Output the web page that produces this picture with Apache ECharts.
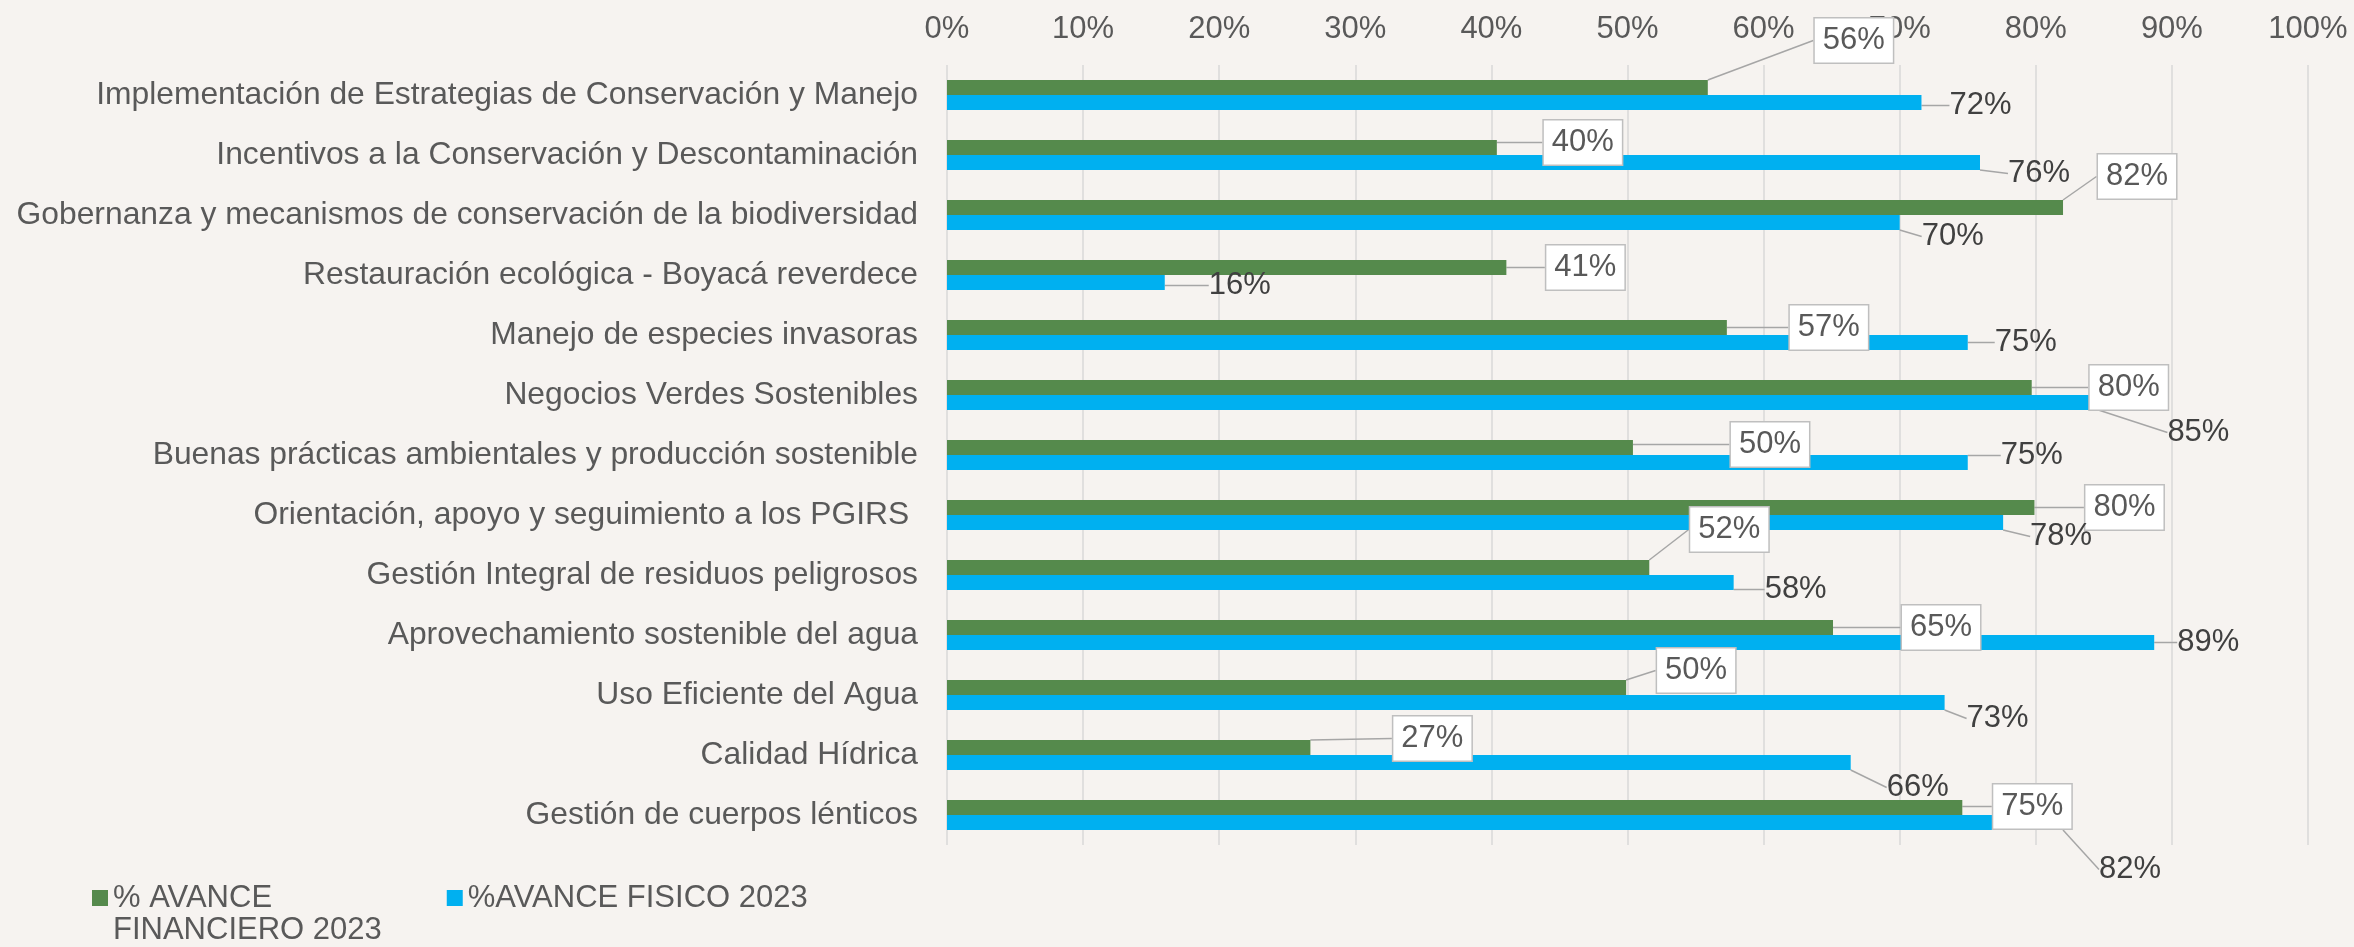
<!DOCTYPE html>
<html lang="es">
<head>
<meta charset="utf-8">
<title>Avance financiero y físico 2023</title>
<script src="https://cdn.jsdelivr.net/npm/echarts@6/dist/echarts.min.js"></script>
<style>
  html, body { margin: 0; padding: 0; background: #f6f3f0; }
  #chart { width: 2354px; height: 947px; }
</style>
</head>
<body>
<div id="chart"></div>
<script>
const categorias = [
  'Implementación de Estrategias de Conservación y Manejo',
  'Incentivos a la Conservación y Descontaminación',
  'Gobernanza y mecanismos de conservación de la biodiversidad',
  'Restauración ecológica - Boyacá reverdece',
  'Manejo de especies invasoras',
  'Negocios Verdes Sostenibles',
  'Buenas prácticas ambientales y producción sostenible',
  'Orientación, apoyo y seguimiento a los PGIRS ',
  'Gestión Integral de residuos peligrosos',
  'Aprovechamiento sostenible del agua',
  'Uso Eficiente del Agua',
  'Calidad Hídrica',
  'Gestión de cuerpos lénticos'
]

// porcentajes
const avanceFinanciero = [55.9, 40.4, 82.0, 41.1, 57.3, 79.7, 50.4, 79.9, 51.6, 65.1, 49.9, 26.7, 74.6]
const avanceFisico = [71.6, 75.9, 70.0, 16.0, 75.0, 84.6, 75.0, 77.6, 57.8, 88.7, 73.3, 66.4, 82.0]

const ticksPct = [0, 10, 20, 30, 40, 50, 60, 70, 80, 90, 100]

const nombreFinanciero = '% AVANCE FINANCIERO 2023'
const nombreFisico = '%AVANCE FISICO 2023'

// desplazamiento de cada etiqueta respecto al extremo de su barra (px)
const desplFinanciero = [[146, -47], [86, -5], [74, -31], [79, 0], [102, 0], [97, 0], [137, -3],
  [90, 0], [80, -38], [108, 0], [70, -17], [122, -9], [70, -1]]
const desplFisico = [[59, 3], [59, 11], [53, 14], [75, 3], [58, 0], [100, 30], [64, -7],
  [58, 14], [62, 7], [54, 0], [53, 16], [67, 25], [67, 47]]

const FONT = '"Liberation Sans", Arial, sans-serif'

const colocarEtiqueta = (despl) => (params) => {
  const d = despl[params.dataIndex]
  const r = params.rect
  return {
    x: r.x + r.width + d[0],
    y: r.y + r.height / 2 + d[1],
    align: 'center',
    verticalAlign: 'middle'
  }
}

const chart = echarts.init(document.getElementById('chart'))

const option = {
  backgroundColor: 'transparent',
  animation: false,
  textStyle: { fontFamily: FONT },
  grid: { left: 947, right: 46, top: 65, bottom: 102, containLabel: false },
  legend: {
    left: 87,
    top: 845,
    icon: 'rect',
    itemWidth: 16,
    itemHeight: 16,
    itemGap: 65,
    data: [nombreFinanciero, nombreFisico],
    // linea vacia arriba para que el cuadro quede junto a la primera linea
    formatter: (name) => name === nombreFinanciero ? '\n% AVANCE\nFINANCIERO 2023' : name,
    textStyle: { fontFamily: FONT, fontSize: 31, lineHeight: 32, color: '#595959' }
  },
  xAxis: {
    type: 'value',
    position: 'top',
    min: ticksPct[0],
    max: ticksPct[ticksPct.length - 1],
    interval: ticksPct[1] - ticksPct[0],
    axisLine: { show: false },
    axisTick: { show: false },
    axisLabel: { fontFamily: FONT, fontSize: 31, color: '#595959', margin: 20, formatter: '{value}%' },
    splitLine: { show: true, lineStyle: { color: '#d9d9d9', width: 1.5 } }
  },
  yAxis: {
    type: 'category',
    inverse: true,
    data: categorias,
    axisLine: { show: false },
    axisTick: { show: false },
    axisLabel: { fontFamily: FONT, fontSize: 31.8, color: '#595959', margin: 29, interval: 0 }
  },
  series: [
    {
      name: nombreFinanciero,
      type: 'bar',
      data: avanceFinanciero,
      barWidth: 15,
      barGap: '0%',
      itemStyle: { color: '#558a4c' },
      label: {
        show: true,
        position: 'right',
        formatter: (p) => Math.round(p.value) + '%',
        fontFamily: FONT,
        fontSize: 31,
        lineHeight: 32,
        color: '#595959',
        backgroundColor: '#ffffff',
        borderColor: '#bfbfbf',
        borderWidth: 1.5,
        padding: [6, 8]
      },
      labelLine: { show: true, lineStyle: { color: '#a6a6a6', width: 1.5 } },
      labelLayout: colocarEtiqueta(desplFinanciero)
    },
    {
      name: nombreFisico,
      type: 'bar',
      data: avanceFisico,
      barWidth: 15,
      itemStyle: { color: '#00b0f0' },
      label: {
        show: true,
        position: 'right',
        formatter: (p) => Math.round(p.value) + '%',
        fontFamily: FONT,
        fontSize: 31,
        color: '#404040'
      },
      labelLine: { show: true, lineStyle: { color: '#a6a6a6', width: 1.5 } },
      labelLayout: colocarEtiqueta(desplFisico)
    }
  ]
}

chart.setOption(option)
</script>
</body>
</html>
